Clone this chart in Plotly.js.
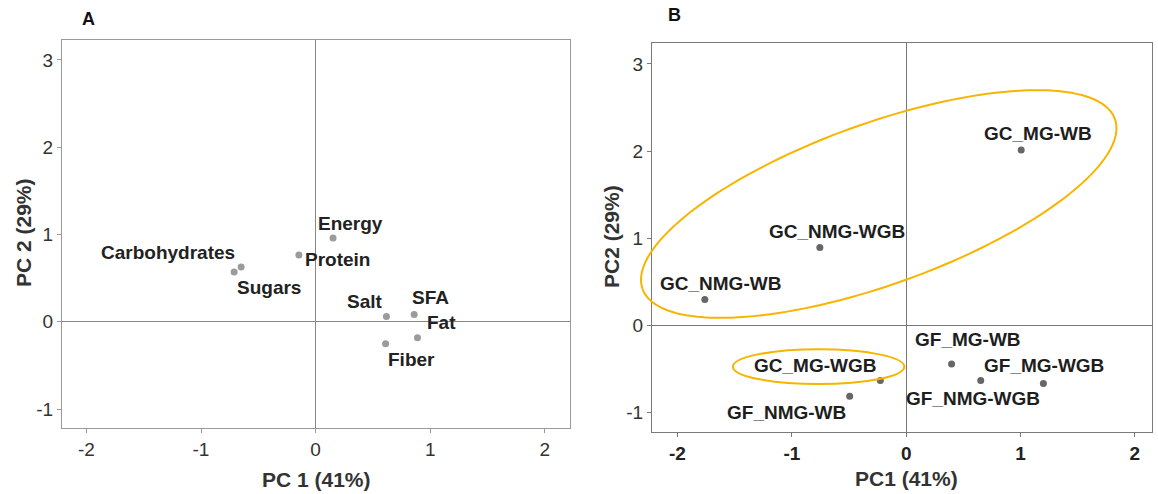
<!DOCTYPE html>
<html>
<head>
<meta charset="utf-8">
<script src="https://cdn.plot.ly/plotly-3.0.1.min.js"></script>
<style>html,body{margin:0;padding:0;background:#fff;}#chart{width:1158px;height:494px;}</style>
</head>
<body>
<div id="chart"></div>
<script>
// ---- Panel A: loadings of nutrients ----
const nutrients = ["Energy", "Protein", "Carbohydrates", "Sugars", "Salt", "SFA", "Fat", "Fiber"];
const nutrientPC1 = [0.152, -0.146, -0.650, -0.711, 0.618, 0.860, 0.889, 0.611];
const nutrientPC2 = [0.960, 0.766, 0.629, 0.571, 0.061, 0.084, -0.183, -0.251];

// ---- Panel B: scores of bread samples ----
const samples = ["GC_MG-WB", "GC_NMG-WGB", "GC_NMG-WB", "GF_MG-WB", "GC_MG-WGB", "GF_NMG-WB", "GF_NMG-WGB", "GF_MG-WGB"];
const samplePC1 = [1.006, -0.755, -1.761, 0.397, -0.226, -0.494, 0.652, 1.200];
const samplePC2 = [2.013, 0.892, 0.295, -0.444, -0.635, -0.815, -0.635, -0.670];

const tickVals = [-2, -1, 0, 1, 2, 3];
const tickText = ["-2", "-1", "0", "1", "2", "3"];

// label placement (pixel offsets from each point)
const labelShiftA = [[17, 15], [4, -5, "left"], [-4, 14, "right"], [35, -16], [-21, 15], [16, 17], [24, 15], [26, -16]];
const labelShiftB = [[17, 16], [17, 16], [16, 16], [16, 24], [-65, 15], [-63, -16], [-8, -18], [1, 18]];

const W = 1158, H = 494;
const domA = [62 / W, 570 / W], domAy = [66 / H, 454 / H];
const domB = [652 / W, 1152 / W], domBy = [62.3 / H, 450.7 / H];
const rangeAx = [-2.213, 2.22], rangeAy = [-1.217, 3.229];
const rangeBx = [-2.223, 2.15], rangeBy = [-1.222, 3.237];

const FONT = "Liberation Sans, Arial, sans-serif";

const traces = [
  { x: nutrientPC1, y: nutrientPC2, type: "scatter", mode: "markers", xaxis: "x", yaxis: "y",
    marker: { color: "#9b9b9b", size: 7 }, hoverinfo: "skip", showlegend: false },
  { x: samplePC1, y: samplePC2, type: "scatter", mode: "markers", xaxis: "x2", yaxis: "y2",
    marker: { color: "#666666", size: 7 }, hoverinfo: "skip", showlegend: false }
];

const annotations = [];
nutrients.forEach((n, i) => {
  const s = labelShiftA[i];
  annotations.push({ x: nutrientPC1[i], y: nutrientPC2[i], xref: "x", yref: "y", text: n, showarrow: false,
    xanchor: s[2] || "center", yanchor: "middle", xshift: s[0], yshift: s[1],
    font: { family: FONT, size: 19, color: "#222", weight: "bold" } });
});
samples.forEach((n, i) => {
  const s = labelShiftB[i];
  annotations.push({ x: samplePC1[i], y: samplePC2[i], xref: "x2", yref: "y2", text: n, showarrow: false,
    xanchor: "center", yanchor: "middle", xshift: s[0], yshift: s[1],
    font: { family: FONT, size: 19, color: "#1e1e1e", weight: "bold" } });
});
// axis titles and panel letters
const titleFont = { family: FONT, size: 21, color: "#333", weight: "bold" };
annotations.push({ xref: "paper", yref: "paper", x: 316 / W, y: 1 - 479 / H, text: "PC 1 (41%)", showarrow: false, xanchor: "center", yanchor: "middle", font: titleFont });
annotations.push({ xref: "paper", yref: "paper", x: 23 / W, y: 1 - 233 / H, text: "PC 2 (29%)", showarrow: false, textangle: -90, xanchor: "center", yanchor: "middle", font: titleFont });
annotations.push({ xref: "paper", yref: "paper", x: 906 / W, y: 1 - 478 / H, text: "PC1 (41%)", showarrow: false, xanchor: "center", yanchor: "middle", font: titleFont });
annotations.push({ xref: "paper", yref: "paper", x: 612 / W, y: 1 - 237 / H, text: "PC2 (29%)", showarrow: false, textangle: -90, xanchor: "center", yanchor: "middle", font: titleFont });
annotations.push({ xref: "paper", yref: "paper", x: 88 / W, y: 1 - 19 / H, text: "A", showarrow: false, xanchor: "center", yanchor: "middle", font: { family: FONT, size: 18, color: "#111", weight: "bold" } });
annotations.push({ xref: "paper", yref: "paper", x: 674 / W, y: 1 - 15 / H, text: "B", showarrow: false, xanchor: "center", yanchor: "middle", font: { family: FONT, size: 18, color: "#111", weight: "bold" } });

// grouping ellipses (panel B), drawn in paper coordinates so they may cross the frame
const pxPerX = (domB[1] - domB[0]) * W / (rangeBx[1] - rangeBx[0]);
const pxPerY = (domBy[1] - domBy[0]) * H / (rangeBy[1] - rangeBy[0]);
function toPaperX(x) { return domB[0] + (x - rangeBx[0]) / (rangeBx[1] - rangeBx[0]) * (domB[1] - domB[0]); }
function toPaperY(y) { return domBy[0] + (y - rangeBy[0]) / (rangeBy[1] - rangeBy[0]) * (domBy[1] - domBy[0]); }
const bigEllipse = { cx: -0.240, cy: 1.392, a: 251, b: 80.5, angleDeg: 19.8 };
function ellipsePath(e) {
  const th = e.angleDeg * Math.PI / 180;
  let d = "";
  for (let k = 0; k <= 160; k++) {
    const t = 2 * Math.PI * k / 160;
    const ux = e.a * Math.cos(t), uy = e.b * Math.sin(t);
    const px = ux * Math.cos(th) - uy * Math.sin(th);
    const py = ux * Math.sin(th) + uy * Math.cos(th);
    const x = toPaperX(e.cx + px / pxPerX), y = toPaperY(e.cy + py / pxPerY);
    d += (k === 0 ? "M" : "L") + x.toFixed(5) + "," + y.toFixed(5);
  }
  return d + "Z";
}
const ellipseColor = "#F7B500";
const shapes = [
  { type: "path", xref: "paper", yref: "paper", path: ellipsePath(bigEllipse), line: { color: ellipseColor, width: 2 } },
  { type: "circle", xref: "x2", yref: "y2", x0: -1.516, x1: -0.016, y0: -0.675, y1: -0.276, line: { color: ellipseColor, width: 2 } }
];

function axis(domain, range, opts) {
  return Object.assign({
    domain: domain, range: range, autorange: false, fixedrange: true,
    tickmode: "array", tickvals: tickVals, ticktext: tickText,
    ticks: "outside", ticklen: 4, tickwidth: 1,
    showgrid: false, zeroline: true, zerolinewidth: 1,
    showline: true, mirror: true, linewidth: 1
  }, opts);
}

const layout = {
  width: W, height: H, margin: { l: 0, r: 0, t: 0, b: 0 },
  paper_bgcolor: "#fff", plot_bgcolor: "#fff", showlegend: false,
  xaxis: axis(domA, rangeAx, { anchor: "y", linecolor: "#9a9a9a", tickcolor: "#9a9a9a", zerolinecolor: "#888",
    tickfont: { family: FONT, size: 19, color: "#333" } }),
  yaxis: axis(domAy, rangeAy, { anchor: "x", linecolor: "#9a9a9a", tickcolor: "#9a9a9a", zerolinecolor: "#888",
    tickfont: { family: FONT, size: 19, color: "#333" } }),
  xaxis2: axis(domB, rangeBx, { anchor: "y2", linecolor: "#7a7a7a", tickcolor: "#7a7a7a", zerolinecolor: "#777",
    tickfont: { family: FONT, size: 19, color: "#222", weight: "bold" } }),
  yaxis2: axis(domBy, rangeBy, { anchor: "x2", linecolor: "#7a7a7a", tickcolor: "#7a7a7a", zerolinecolor: "#777",
    tickfont: { family: FONT, size: 19, color: "#333" } }),
  annotations: annotations,
  shapes: shapes
};

Plotly.newPlot("chart", traces, layout, { staticPlot: true, displayModeBar: false });
</script>
</body>
</html>
